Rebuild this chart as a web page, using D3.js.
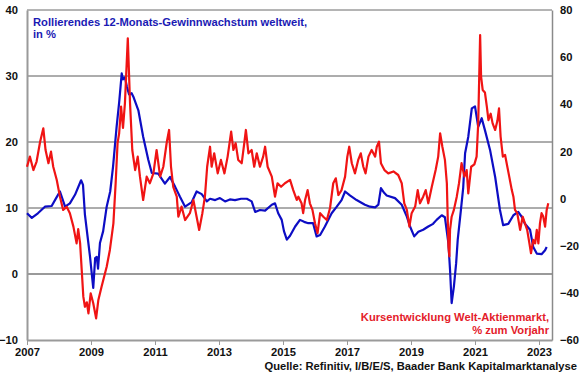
<!DOCTYPE html>
<html>
<head>
<meta charset="utf-8">
<script src="https://cdn.jsdelivr.net/npm/d3@7"></script>
<style>
  body { margin: 0; background: #fff; }
  text { font-family: Arial, "Liberation Sans", sans-serif; font-weight: bold; }
</style>
</head>
<body>
<div id="chart"></div>
<script>
// frame constants
const FRAME_WIDTH = 580;
const FRAME_HEIGHT = 375;
const MARGINS = {left: 27, right: 28, top: 10, bottom: 35};
const PLOT_RIGHT = FRAME_WIDTH - MARGINS.right;
const PLOT_BOTTOM = FRAME_HEIGHT - MARGINS.bottom;
const FONT_SIZE = '11.2px';

// tick values
const yearTicks = [2007, 2009, 2011, 2013, 2015, 2017, 2019, 2021, 2023];
const leftTicks = [-10, 0, 10, 20, 30, 40];
const rightTicks = [-60, -40, -20, 0, 20, 40, 60, 80];

// rolling 12-month earnings growth, world (left axis, %)
const epsYears = [2007.0, 2007.15, 2007.34, 2007.56, 2007.77, 2007.91, 2008.03, 2008.19, 2008.34, 2008.5,
  2008.69, 2008.75, 2008.81, 2008.91, 2008.97, 2009.07, 2009.13, 2009.18, 2009.22, 2009.28,
  2009.38, 2009.49, 2009.6, 2009.69, 2009.8, 2009.88, 2009.96, 2010.0, 2010.06, 2010.12,
  2010.19, 2010.27, 2010.32, 2010.48, 2010.63, 2010.79, 2010.9, 2011.1, 2011.31, 2011.47,
  2011.63, 2011.78, 2011.94, 2012.15, 2012.3, 2012.46, 2012.62, 2012.72, 2012.88, 2013.03,
  2013.19, 2013.34, 2013.5, 2013.69, 2013.87, 2014.02, 2014.13, 2014.28, 2014.44, 2014.65,
  2014.75, 2014.85, 2014.96, 2015.03, 2015.12, 2015.22, 2015.38, 2015.53, 2015.66, 2015.79,
  2015.94, 2016.05, 2016.16, 2016.31, 2016.52, 2016.68, 2016.83, 2016.94, 2017.09, 2017.3,
  2017.56, 2017.72, 2017.88, 2017.98, 2018.06, 2018.16, 2018.24, 2018.5, 2018.71, 2018.87,
  2018.97, 2019.1, 2019.23, 2019.38, 2019.54, 2019.69, 2019.8, 2019.96, 2020.06, 2020.17,
  2020.22, 2020.27, 2020.34, 2020.41, 2020.46, 2020.56, 2020.63, 2020.69, 2020.79, 2020.9,
  2021.0, 2021.1, 2021.21, 2021.31, 2021.47, 2021.63, 2021.78, 2021.88, 2022.04, 2022.2,
  2022.35, 2022.47, 2022.56, 2022.72, 2022.82, 2022.93, 2023.08, 2023.19, 2023.24];
const epsGrowth = [9.2, 8.5, 9.2, 10.2, 10.3, 11.5, 12.5, 10.2, 10.7, 12.0,
  14.2, 13.5, 9.0, 5.0, 2.6, -2.1, 2.4, 2.6, 0.8, 4.7,
  6.5, 10.2, 12.5, 16.3, 22.3, 26.0, 30.4, 29.5, 29.8, 28.4,
  27.2, 27.4, 26.9, 24.8, 20.8, 17.3, 15.3, 15.2, 13.7, 14.7,
  13.2, 11.7, 10.2, 10.9, 12.5, 12.1, 11.0, 11.4, 11.2, 11.5,
  11.0, 11.3, 11.2, 11.4, 11.4, 11.0, 9.4, 9.7, 9.6, 10.5,
  10.7, 9.2, 8.2, 6.5, 5.2, 5.8, 7.2, 8.2, 7.9, 7.7,
  7.7, 5.7, 5.9, 7.2, 9.2, 10.2, 11.2, 12.5, 11.9, 11.2,
  10.5, 10.2, 10.1, 10.5, 13.0, 12.3, 11.9, 11.5, 10.5, 8.7,
  7.2, 5.7, 6.4, 6.7, 7.2, 7.6, 8.2, 8.9, 8.6, 4.6,
  0.6, -4.4, -1.9, 1.6, 5.2, 9.7, 13.0, 18.3, 20.8, 25.1,
  25.4, 22.3, 23.6, 21.8, 18.8, 14.7, 9.7, 7.4, 7.6, 8.9,
  9.4, 8.6, 7.6, 6.7, 4.1, 3.1, 3.0, 3.6, 4.1];

// world equity market, % yoy (right axis)
const mktYears = [2007.0, 2007.09, 2007.2, 2007.3, 2007.41, 2007.51, 2007.58, 2007.67, 2007.75, 2007.82,
  2007.93, 2008.03, 2008.13, 2008.24, 2008.34, 2008.45, 2008.55, 2008.6, 2008.66, 2008.71,
  2008.76, 2008.81, 2008.87, 2008.92, 2008.99, 2009.07, 2009.16, 2009.23, 2009.33, 2009.49,
  2009.59, 2009.7, 2009.77, 2009.83, 2009.88, 2009.91, 2009.94, 2010.0, 2010.06, 2010.15,
  2010.22, 2010.29, 2010.38, 2010.46, 2010.53, 2010.63, 2010.74, 2010.84, 2010.95, 2011.05,
  2011.16, 2011.26, 2011.37, 2011.44, 2011.5, 2011.57, 2011.68, 2011.73, 2011.83, 2011.94,
  2012.09, 2012.2, 2012.3, 2012.38, 2012.48, 2012.56, 2012.63, 2012.72, 2012.77, 2012.85,
  2012.96, 2013.06, 2013.17, 2013.27, 2013.38, 2013.45, 2013.52, 2013.6, 2013.71, 2013.79,
  2013.84, 2013.92, 2014.02, 2014.1, 2014.18, 2014.28, 2014.38, 2014.44, 2014.52, 2014.65,
  2014.75, 2014.83, 2014.94, 2015.06, 2015.22, 2015.32, 2015.43, 2015.48, 2015.58, 2015.63,
  2015.69, 2015.77, 2015.84, 2015.92, 2016.0, 2016.08, 2016.16, 2016.26, 2016.37, 2016.47,
  2016.57, 2016.65, 2016.73, 2016.83, 2016.94, 2017.01, 2017.07, 2017.15, 2017.25, 2017.35,
  2017.43, 2017.51, 2017.58, 2017.67, 2017.77, 2017.88, 2017.93, 2018.0, 2018.06, 2018.17,
  2018.29, 2018.45, 2018.6, 2018.71, 2018.79, 2018.87, 2018.95, 2019.02, 2019.13, 2019.21,
  2019.28, 2019.38, 2019.46, 2019.54, 2019.65, 2019.77, 2019.85, 2019.91, 2019.98, 2020.06,
  2020.12, 2020.17, 2020.2, 2020.22, 2020.27, 2020.34, 2020.43, 2020.5, 2020.58, 2020.67,
  2020.74, 2020.79, 2020.88, 2020.98, 2021.05, 2021.1, 2021.16, 2021.19, 2021.24, 2021.31,
  2021.37, 2021.42, 2021.49, 2021.55, 2021.63, 2021.7, 2021.75, 2021.8, 2021.87, 2021.94,
  2022.01, 2022.07, 2022.15, 2022.2, 2022.25, 2022.32, 2022.41, 2022.49, 2022.56, 2022.63,
  2022.7, 2022.75, 2022.82, 2022.88, 2022.93, 2022.98, 2023.03, 2023.08, 2023.13, 2023.19,
  2023.24, 2023.29];
const mktChange = [13.5, 17.8, 12.1, 15.7, 24.1, 29.8, 20.6, 15.0, 19.9, 13.5,
  7.9, 0.8, -4.8, -3.5, -6.2, -11.9, -19.0, -13.0, -19.0, -30.3,
  -41.6, -45.9, -44.0, -48.7, -40.2, -44.4, -50.8, -43.0, -37.4, -28.9,
  -21.8, -10.5, 6.5, 23.5, 27.7, 33.3, 39.0, 30.0, 40.4, 68.0,
  40.4, 20.6, 12.1, 17.8, 9.3, -0.6, 9.3, 6.5, 10.7, 20.6,
  9.3, 13.5, 24.1, 29.1, 13.5, 5.0, 0.8, -7.7, -3.4, -9.1,
  -6.2, -0.6, -7.7, -13.3, -6.2, 0.8, 13.5, 22.0, 13.5, 19.2,
  10.7, 16.4, 10.7, 17.8, 28.4, 20.6, 23.5, 16.4, 15.0, 23.5,
  29.1, 19.2, 20.6, 13.5, 19.2, 13.5, 17.8, 22.0, 13.5, 9.3,
  0.8, 6.5, 5.0, 6.5, 7.9, 3.6, -0.6, 0.8, -2.0, -6.2,
  -0.6, 3.6, -2.0, -4.8, -10.5, -14.7, -6.2, -7.7, -9.1, -4.0,
  6.5, 8.6, 1.5, 3.6, 9.3, 17.8, 22.0, 15.0, 10.7, 16.4,
  19.2, 13.5, 10.7, 17.8, 20.6, 17.8, 22.0, 24.1, 15.0, 12.1,
  10.7, 11.5, 10.0, 6.5, -2.0, -4.8, -11.9, -6.2, -3.4, 3.6,
  -2.0, 0.8, 3.6, -2.0, 5.0, 12.1, 17.8, 27.7, 22.0, 16.4,
  6.5, -20.4, -24.5, -13.3, -7.7, -4.8, 0.8, 6.5, 15.0, 9.3,
  12.1, 2.2, 13.5, 14.5, 17.8, 31.9, 69.4, 51.7, 46.1, 45.0,
  39.0, 33.3, 36.0, 31.9, 29.1, 33.0, 38.3, 26.3, 17.8, 18.5,
  13.5, 9.3, 3.6, 0.8, -4.8, -6.2, -13.3, -7.7, -10.5, -13.3,
  -19.0, -23.2, -17.5, -19.0, -13.3, -19.0, -10.5, -6.2, -7.5, -11.9,
  -4.8, -2.0];

const svg = d3.select('#chart')
  .append('svg')
  .attr('width', FRAME_WIDTH)
  .attr('height', FRAME_HEIGHT);

// scales
const xScale = d3.scaleLinear()
  .domain([2007, 2023.406])
  .range([MARGINS.left, PLOT_RIGHT]);
const yLeft = d3.scaleLinear()
  .domain([-10, 40])
  .range([PLOT_BOTTOM, MARGINS.top]);
const yRight = d3.scaleLinear()
  .domain([-60, 80])
  .range([PLOT_BOTTOM, MARGINS.top]);

// gridlines (dark thin ones, zero line lighter and thicker)
svg.selectAll('.grid')
  .data([10, 20, 30])
  .enter()
  .append('line')
  .attr('x1', MARGINS.left).attr('x2', PLOT_RIGHT)
  .attr('y1', (d) => yLeft(d)).attr('y2', (d) => yLeft(d))
  .attr('stroke', '#5a5a5a')
  .attr('stroke-width', 1);

// top border
svg.append('line')
  .attr('x1', MARGINS.left).attr('x2', PLOT_RIGHT)
  .attr('y1', yLeft(40)).attr('y2', yLeft(40))
  .attr('stroke', '#6a6a6a').attr('stroke-width', 1);

svg.append('line')
  .attr('x1', MARGINS.left).attr('x2', PLOT_RIGHT)
  .attr('y1', yLeft(0)).attr('y2', yLeft(0))
  .attr('stroke', '#9a9a9a').attr('stroke-width', 2);

// x axis
const xAxis = svg.append('g')
  .attr('transform', 'translate(0,' + PLOT_BOTTOM + ')')
  .call(d3.axisBottom(xScale).tickValues(yearTicks).tickFormat(d3.format('d'))
    .tickSizeInner(5).tickSizeOuter(0).tickPadding(3));
xAxis.select('.domain').attr('stroke', '#9a9a9a').attr('stroke-width', 2);
xAxis.selectAll('.tick line').attr('stroke', '#9a9a9a').attr('stroke-width', 1);
xAxis.selectAll('text').attr('font-size', FONT_SIZE).attr('fill', '#111');

// left axis
const leftAxis = svg.append('g')
  .attr('transform', 'translate(' + MARGINS.left + ',0)')
  .call(d3.axisLeft(yLeft).tickValues(leftTicks).tickSize(0).tickPadding(9));
leftAxis.select('.domain').attr('stroke', '#9a9a9a').attr('stroke-width', 2);
leftAxis.selectAll('text').attr('font-size', FONT_SIZE).attr('fill', '#111');

// right axis
const rightAxis = svg.append('g')
  .attr('transform', 'translate(' + PLOT_RIGHT + ',0)')
  .call(d3.axisRight(yRight).tickValues(rightTicks).tickSize(0).tickPadding(8));
rightAxis.select('.domain').attr('stroke', '#8a8a8a').attr('stroke-width', 1.5);
rightAxis.selectAll('text').attr('font-size', FONT_SIZE).attr('fill', '#111');

// lines
const epsLine = d3.line()
  .x((d, i) => xScale(epsYears[i]))
  .y((d) => yLeft(d));
const mktLine = d3.line()
  .x((d, i) => xScale(mktYears[i]))
  .y((d) => yRight(d));

svg.append('path')
  .datum(epsGrowth)
  .attr('d', epsLine)
  .attr('fill', 'none')
  .attr('stroke', '#0d0dc4')
  .attr('stroke-width', 2.2)
  .attr('stroke-linejoin', 'round');

svg.append('path')
  .datum(mktChange)
  .attr('d', mktLine)
  .attr('fill', 'none')
  .attr('stroke', '#f01414')
  .attr('stroke-width', 2.2)
  .attr('stroke-linejoin', 'round');

// series labels
svg.append('text')
  .attr('x', 33).attr('y', 26)
  .attr('font-size', FONT_SIZE).attr('fill', '#1a1ab4')
  .text('Rollierendes 12-Monats-Gewinnwachstum weltweit,');
svg.append('text')
  .attr('x', 33).attr('y', 38)
  .attr('font-size', FONT_SIZE).attr('fill', '#1a1ab4')
  .text('in %');

svg.append('text')
  .attr('x', 549).attr('y', 321)
  .attr('text-anchor', 'end')
  .attr('font-size', FONT_SIZE).attr('fill', '#e4202a')
  .text('Kursentwicklung Welt-Aktienmarkt,');
svg.append('text')
  .attr('x', 549).attr('y', 334)
  .attr('text-anchor', 'end')
  .attr('font-size', FONT_SIZE).attr('fill', '#e4202a')
  .text('% zum Vorjahr');

// source
svg.append('text')
  .attr('x', 577).attr('y', 370)
  .attr('text-anchor', 'end')
  .attr('font-size', FONT_SIZE).attr('fill', '#111')
  .text('Quelle: Refinitiv, I/B/E/S, Baader Bank Kapitalmarktanalyse');
</script>
</body>
</html>
